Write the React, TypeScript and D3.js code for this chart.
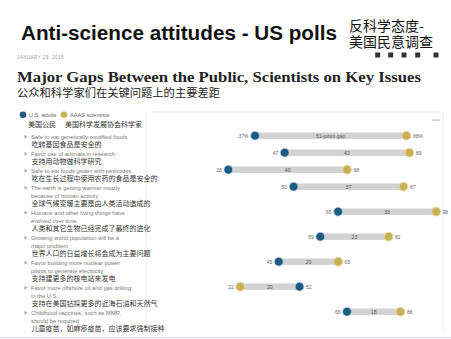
import React from "react";
import * as d3 from "d3";

const issuesEn: string[][] = [
  ["Safe to eat genetically modified foods"],
  ["Favor use of animals in research"],
  ["Safe to eat foods grown with pesticides"],
  ["The earth is getting warmer mostly", "because of human activity"],
  ["Humans and other living things have", "evolved over time"],
  ["Growing world population will be a", "major problem"],
  ["Favor building more nuclear power", "plants to generate electricity"],
  ["Favor more offshore oil and gas drilling", "in the U.S."],
  ["Childhood vaccines, such as MMR,", "should be required"],
];
const issuesZh: string[] = [
  "吃转基因食品是安全的",
  "支持用动物做科学研究",
  "吃在生长过程中使用农药的食品是安全的",
  "全球气候变暖主要是由人类活动造成的",
  "人类和其它生物已经完成了最终的进化",
  "世界人口的日益增长将会成为主要问题",
  "支持建更多的核电站来发电",
  "支持在美国钻探更多的近海石油和天然气",
  "儿童疫苗，如麻疹疫苗，应该要求强制接种",
];
const usAdults: number[] = [37, 47, 28, 50, 65, 59, 45, 52, 68];
const aaasScientists: number[] = [88, 89, 68, 87, 98, 82, 65, 32, 86];
const gapLabels: string[] = ["51-point gap", "42", "40", "37", "33", "23", "20", "20", "18"];

const BLUE = "#1d5b82";
const GOLD = "#c8b05a";
const SANS = "'Liberation Sans', Arial, sans-serif";
const CJK = "'Noto Sans CJK SC', sans-serif";

export default function App() {
  const W = 451, H = 339;
  const x = d3.scaleLinear().domain([0, 100]).range([145.2, 442]);

  const firstLine = 136.7;
  const rowTops: number[] = [];
  let acc = firstLine;
  issuesEn.forEach((lines) => {
    rowTops.push(acc);
    acc += 9 + 8 * lines.length;
  });

  const icons = [377.7, 390.7, 404, 417.7, 436];

  return (
    <svg width={W} height={H} style={{ position: "absolute", left: 0, top: 0, background: "#fff" }}>
      <rect x={0} y={0} width={W} height={H} fill="#fff" />
      <text x={21} y={40} fontFamily={SANS} fontWeight="bold" fontSize={20} fill="#111" textLength={316} lengthAdjust="spacingAndGlyphs">
        Anti-science attitudes - US polls
      </text>
      <text fontFamily={CJK} fontSize={14} fill="#111">
        <tspan x={349} y={30.5}>反科学态度-</tspan>
        <tspan x={349} y={46.5}>美国民意调查</tspan>
      </text>
      <text x={17} y={58.5} fontFamily={SANS} fontSize={4.6} fill="#999" letterSpacing={0.4}>JANUARY 29, 2015</text>
      {icons.map((ix, i) => (
        <rect key={i} x={ix - 2.5} y={52.5} width={5} height={5} fill="#333" rx={0.5} />
      ))}
      <text x={17} y={81.5} fontFamily="'Liberation Serif', serif" fontWeight="bold" fontSize={15} fill="#222" textLength={404} lengthAdjust="spacingAndGlyphs">
        Major Gaps Between the Public, Scientists on Key Issues
      </text>
      <text x={17} y={96.5} fontFamily={CJK} fontSize={10.8} fill="#222" textLength={203} lengthAdjust="spacingAndGlyphs">公众和科学家们在关键问题上的主要差距</text>

      <line x1={146} x2={146} y1={112} y2={332} stroke="#eee" />
      <line x1={153} x2={443} y1={112} y2={112} stroke="#eaeaea" />
      <line x1={443} x2={443} y1={112} y2={332} stroke="#f0f0f0" />
      <rect x={432} y={119.5} width={8} height={1.5} fill="#ccc" />
      <line x1={0} x2={W} y1={337.5} y2={337.5} stroke="#dde" strokeWidth={1.5} />

      <circle cx={23} cy={114.7} r={3.3} fill={BLUE} />
      <text x={29} y={116.7} fontFamily={SANS} fontSize={5.6} fill="#666">U.S. adults</text>
      <circle cx={64} cy={114.7} r={3.3} fill={GOLD} stroke="#e6d890" strokeWidth={0.8} />
      <text x={70} y={116.7} fontFamily={SANS} fontSize={5.6} fill="#666">AAAS scientists</text>
      <text x={28} y={127.3} fontFamily={CJK} fontSize={7} fill="#333">美国公民</text>
      <text x={65} y={127.3} fontFamily={CJK} fontSize={7} fill="#333">美国科学发展协会科学家</text>

      {issuesEn.map((lines, i) => {
        const top = rowTops[i];
        const zhY = top + 8 * lines.length - 0.5;
        const cy = top - 1;
        const us = usAdults[i], sc = aaasScientists[i];
        const lo = Math.min(us, sc), hi = Math.max(us, sc);
        const pct = i === 0 ? "%" : "";
        return (
          <g key={i}>
            <path d={`M24.5,${top - 2} L27.5,${top} L24.5,${top + 2} Z`} fill="#aaa" />
            {lines.map((ln, j) => (
              <text key={j} x={31} y={top + 2 + 8 * j} fontFamily={SANS} fontSize={5.8} fill="#777">{ln}</text>
            ))}
            <text x={31.5} y={zhY + 2.5} fontFamily={CJK} fontSize={7} fill="#333">{issuesZh[i]}</text>

            <rect x={x(lo)} y={cy - 3.2} width={x(hi) - x(lo)} height={6.4} fill="#d2d2d2" />
            <text x={(x(lo) + x(hi)) / 2} y={cy + 1.8} textAnchor="middle" fontFamily={SANS} fontSize={5.3} fill="#555">{gapLabels[i]}</text>
            <circle cx={x(sc)} cy={cy} r={4.4} fill={GOLD} stroke="#eadc98" strokeWidth={1} />
            <circle cx={x(us)} cy={cy} r={4.4} fill={BLUE} stroke="#bcd3e2" strokeWidth={0.8} />
            <text x={x(lo) - 6.5} y={cy + 1.8} textAnchor="end" fontFamily={SANS} fontSize={5} fill="#666">{lo}{pct}</text>
            <text x={x(hi) + 6.5} y={cy + 1.8} textAnchor="start" fontFamily={SANS} fontSize={5} fill="#666">{hi}{pct}</text>
          </g>
        );
      })}
    </svg>
  );
}
